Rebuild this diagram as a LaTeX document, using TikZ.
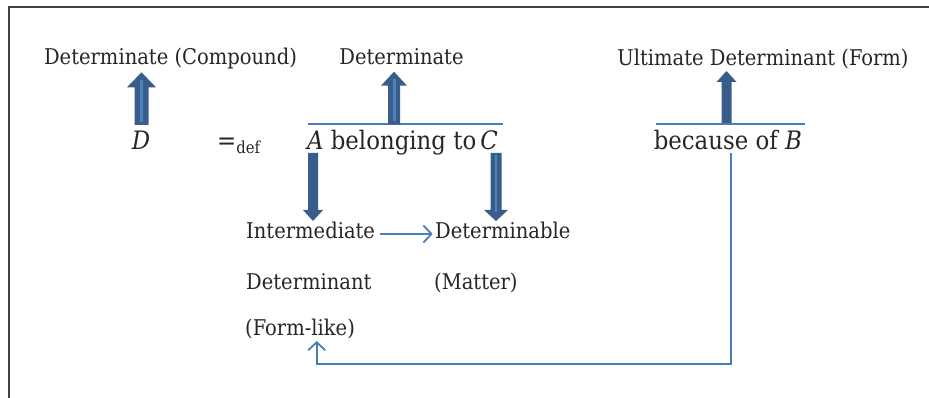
\documentclass[tikz,border=0pt]{standalone}
\usepackage{fontspec}
\setmainfont{DejaVu Serif Condensed}
\usetikzlibrary{calc,arrows.meta}
\definecolor{bdark}{RGB}{56,93,138}
\definecolor{blight}{RGB}{79,129,189}
\definecolor{bline}{RGB}{74,126,187}
\definecolor{txt}{RGB}{38,38,38}
\newcommand\blockarrow[6]{%
  \coordinate (ba-h) at ($(#3)!#6!(#2)$);
  \fill[#1] ($(#2)!#4!90:(#3)$) -- ($(ba-h)!#4!90:(#3)$) -- ($(ba-h)!#5!90:(#3)$) -- (#3)
    -- ($(ba-h)!#5!-90:(#3)$) -- ($(ba-h)!#4!-90:(#3)$) -- ($(#2)!#4!-90:(#3)$) -- cycle;}
\tikzset{
  lbl/.style={inner sep=0pt, text=txt, font=\fontsize{21.7}{26}\selectfont},
  mainlbl/.style={inner sep=0pt, text=txt, font=\fontsize{25.4}{30}\selectfont},
  barrow/.style={fill=bdark},
  stripe/.style={draw=blight, line width=3.5pt},
  thinstripe/.style={draw=blight, line width=1.2pt},
  thinline/.style={draw=bline, line width=1.8pt},
  thinarrow/.style={draw=bline, line width=1.8pt, -{Straight Barb[length=8pt,width=17pt,line width=1.8pt]}},
}
\begin{document}
\begin{tikzpicture}[x=1pt,y=-1pt]
\useasboundingbox (0,0) rectangle (929,398);
% frame
\draw[draw=black!75, line width=1.4pt] (9,398) -- (9,7) -- (929,7);
% labels
\node[lbl, anchor=base] (dc) at (170.5,65) {Determinate (Compound)};
\node[lbl, anchor=base] (det) at (401.5,65) {Determinate};
\node[lbl, anchor=base] (ult) at (763,66) {Ultimate Determinant (Form)};
\node[mainlbl, anchor=base] (D) at (141,150) {\textit{D}};
\node[mainlbl, anchor=base west] (eq) at (217,150) {=\raisebox{-4pt}{\fontsize{16.5}{16.5}\selectfont def}};
\node[mainlbl, anchor=base] (abc) at (402.5,149.5) {\textit{A} belonging to\,\textit{C}};
\node[mainlbl, anchor=base] (bcz) at (727.8,149.5) {because of \textit{B}};
\node[lbl, anchor=base west] (inter) at (246,239) {Intermediate};
\node[lbl, anchor=base west] (detbl) at (435,239) {Determinable};
\node[lbl, anchor=base west] (detnt) at (246,289) {Determinant};
\node[lbl, anchor=base west] (matter) at (434,289) {(Matter)};
\node[lbl, anchor=base west] (formlike) at (245,335) {(Form-like)};
% overlines
\coordinate (ol1a) at (308,123.7); \coordinate (ol1b) at (503,123.7);
\coordinate (ol2a) at (656,123.7); \coordinate (ol2b) at (805,123.7);
\draw[thinline] (ol1a) -- (ol1b);
\draw[thinline] (ol2a) -- (ol2b);
% block arrows
\coordinate (a1t) at (141.5,125); \coordinate (a1h) at (141.5,72.3);
\blockarrow{barrow}{a1t}{a1h}{7pt}{14.5pt}{15pt}
\draw[stripe] (141.5,122) -- (141.5,80);
\coordinate (a2t) at (394,124.5); \coordinate (a2h) at (394,71.7);
\blockarrow{barrow}{a2t}{a2h}{6pt}{13pt}{14pt}
\draw[stripe, line width=3pt] (394,121) -- (394,79);
\coordinate (a3t) at (726.5,123); \coordinate (a3h) at (726.5,71);
\blockarrow{barrow}{a3t}{a3h}{5pt}{10pt}{11pt}
\coordinate (a4t) at (313,153); \coordinate (a4h) at (313,221);
\blockarrow{barrow}{a4t}{a4h}{5pt}{10pt}{11pt}
\coordinate (a5t) at (496,153); \coordinate (a5h) at (496,221);
\blockarrow{barrow}{a5t}{a5h}{5.5pt}{12pt}{11pt}
\draw[thinstripe] (496,155) -- (496,212);
% thin arrows
\draw[thinarrow] ($(inter.base east)+(4.5,-5)$) -- ($(detbl.base west)+(-2.3,-5)$);
\coordinate (fbs) at (730.7,153);
\coordinate (fbe) at (316.7,341);
\draw[thinline, -{Straight Barb[length=8pt,width=17pt,line width=1.8pt]}] (fbs) |- (316.7,364) -- (fbe);
\end{tikzpicture}
\end{document}
